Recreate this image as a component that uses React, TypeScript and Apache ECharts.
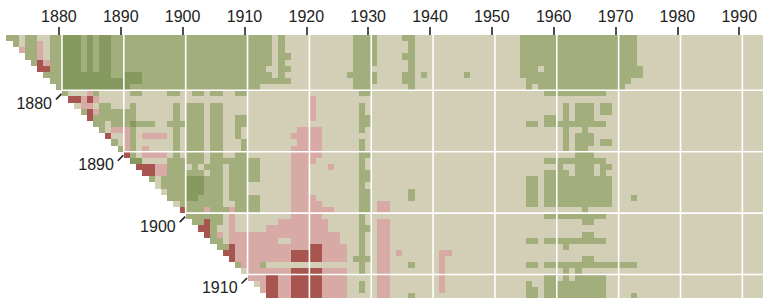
import React, { useEffect, useRef } from "react";
import * as echarts from "echarts";

// Start years (rows) run from firstStartYear downwards; end years (columns) up to lastEndYear.
const firstStartYear = 1871;
const lastEndYear = 1994;
const tickYears = [1880, 1890, 1900, 1910, 1920, 1930, 1940, 1950, 1960, 1970, 1980, 1990];
const rowLabelYears = [1880, 1890, 1900, 1910];

// Category codes: D dark green, G green, B beige, P pink, R dark red
const categoryCodes = ["D", "G", "B", "P", "R"];
const categoryColors = ["#86995e", "#a2ae7b", "#d3cfb6", "#d8aaa5", "#a8544f"];

// One row per start year; "YYYYc" = from end year YYYY onward the category is c.
const rowSpecs = [
  "1872G 1874B 1875G 1877B 1879G 1881D 1884G 1885D 1886G 1887D 1889G 1915B 1916G 1917B 1928G 1932B 1936G 1938B 1955G 1974B",
  "1873G 1874B 1875G 1877P 1878B 1879G 1881D 1884G 1885D 1886G 1887D 1889G 1915B 1916G 1917B 1928G 1932B 1937G 1938B 1955G 1974B",
  "1874P 1875G 1877P 1878B 1879G 1881D 1884G 1885D 1886G 1887D 1889G 1915B 1916G 1917B 1928G 1932B 1937G 1938B 1955G 1974B",
  "1875G 1877P 1878B 1879G 1881D 1884G 1885D 1886G 1887D 1889G 1915B 1916G 1918B 1928G 1932B 1936G 1938B 1955G 1974B",
  "1876G 1877R 1878P 1879G 1881D 1884G 1885D 1886G 1887D 1889G 1915B 1916G 1917B 1928G 1932B 1937G 1938B 1955G 1974B",
  "1877R 1879G 1881D 1884G 1885D 1886G 1887D 1889G 1914B 1916G 1918B 1928G 1931B 1937G 1938B 1955G 1958B 1959G 1975B",
  "1878G 1881D 1889G 1891D 1894G 1915B 1916G 1917B 1927G 1932B 1936G 1938B 1939G 1940B 1946G 1947B 1955G 1975B",
  "1879G 1881D 1894G 1918B 1928G 1932B 1936G 1938B 1956G 1973B",
  "1880G 1881D 1892G 1913B 1928G 1931B 1937G 1938B 1956G 1957B 1958G 1972B",
  "1881G 1882B 1885P 1886G 1887B 1892G 1894B 1898G 1900B 1902G 1904B 1905G 1907B 1909G 1911B 1929G 1931B 1959G 1969B",
  "1882R 1884P 1885R 1886P 1887B 1921P 1922B",
  "1883B 1884P 1886B 1887G 1889B 1892G 1893B 1899G 1900B 1901G 1904B 1905G 1907B 1921P 1922B 1929G 1930B 1962G 1963B 1964G 1967B 1968G 1970B",
  "1884G 1885R 1886P 1887G 1893B 1899G 1900B 1901G 1904B 1905G 1907B 1921P 1922B 1929G 1930B 1962G 1963B 1964G 1967B 1968G 1970B",
  "1885R 1886G 1893B 1899G 1900B 1901G 1904B 1905G 1907B 1909G 1911B 1921P 1922B 1929G 1931B 1959G 1961B 1962G 1963B 1964G 1967B",
  "1886G 1888B 1889G 1892D 1893G 1896B 1898G 1904B 1905G 1907B 1909G 1911B 1929G 1931B 1956G 1958B 1959G 1969B",
  "1887G 1888B 1889P 1892G 1893B 1899G 1900B 1901G 1904B 1905G 1907B 1909G 1910B 1919P 1923B 1929G 1930B 1962G 1963B 1965G 1966B",
  "1888R 1889B 1891P 1892G 1893B 1894P 1898B 1899G 1900B 1901G 1904B 1905G 1907B 1909G 1910B 1918P 1923B 1962G 1963B 1964G 1967B",
  "1889G 1890B 1891P 1892G 1893B 1899G 1900B 1901G 1904B 1905G 1907B 1910G 1911B 1919P 1923B 1929G 1930B 1962G 1963B 1964G 1967B 1968G 1970B",
  "1890G 1891P 1892G 1893B 1894P 1895B 1899G 1900B 1901G 1904B 1905G 1907B 1910G 1911B 1918P 1923B 1929G 1930B 1962G 1963B 1964G 1966B",
  "1891R 1892G 1893B 1894P 1898B 1899G 1900B 1901G 1904B 1905G 1907B 1909G 1911B 1918P 1923B 1929G 1931B 1964G 1967B",
  "1892D 1894B 1898G 1904B 1905G 1913B 1918P 1922B 1929G 1930B 1959G 1969B",
  "1893R 1896P 1898G 1901B 1902G 1903B 1904G 1907B 1908G 1913B 1918P 1921B 1924P 1925B 1929G 1930B 1961G 1962B 1964G 1967B 1968G 1970B",
  "1894R 1896P 1898G 1904B 1905G 1907B 1908G 1913B 1918P 1921B 1929G 1931B 1959G 1963B 1964G 1967B 1968G 1969B",
  "1895G 1896B 1897G 1901D 1904G 1907B 1908G 1913B 1918P 1921B 1929G 1931B 1956G 1958B 1959G 1970B",
  "1896B 1897G 1901D 1904G 1907B 1908G 1911B 1918P 1921B 1929G 1930B 1956G 1958B 1959G 1970B",
  "1897B 1898G 1901D 1904G 1907B 1908G 1911B 1918P 1921B 1929G 1931B 1937G 1938B 1956G 1958B 1959G 1970B",
  "1898G 1901D 1903G 1907B 1908G 1913B 1918P 1922B 1929G 1931B 1937G 1938B 1956G 1958B 1959G 1970B 1973G 1974B",
  "1899B 1900G 1907B 1909G 1913B 1918P 1923B 1929G 1931B 1932P 1934B 1956G 1958B 1959G 1970B",
  "1900R 1901G 1904P 1905G 1908P 1909G 1913B 1918P 1925B 1929G 1931B 1932P 1934B 1965G 1966B",
  "1901G 1907B 1908P 1909B 1918P 1923B 1929G 1930B 1959G 1969B",
  "1902G 1904R 1905G 1907B 1908P 1909B 1916P 1924B 1929G 1930B 1932P 1934B 1965G 1967B",
  "1903R 1905G 1906B 1908P 1909B 1914P 1924B 1929G 1931B 1932P 1934B",
  "1904R 1905G 1906P 1907B 1908P 1926B 1929G 1930B 1932P 1934B 1965G 1967B",
  "1905G 1907B 1908P 1916B 1918P 1926B 1929G 1930B 1932P 1934B 1956G 1958B 1959G 1969B",
  "1906G 1908R 1909P 1921R 1923P 1927B 1929G 1930B 1932P 1934B 1962G 1963B",
  "1907R 1909P 1918R 1923P 1927B 1929G 1930B 1932P 1934B 1935P 1936B 1942P 1944B",
  "1908R 1909P 1918R 1923P 1927B 1928G 1931B 1932P 1934B 1942P 1943B 1965G 1967B",
  "1909G 1910P 1913G 1914B 1929G 1930B 1932P 1934B 1937G 1938B 1942P 1943B 1956G 1958B 1959G 1974B",
  "1910B 1911P 1918R 1923P 1927B 1929G 1930B 1932P 1934B 1942P 1943B 1962G 1963B 1964G 1965B",
  "1911P 1914R 1916P 1918R 1923P 1927B 1932P 1934B 1942P 1943B 1959G 1961B 1962G 1963B 1964G 1969B",
  "1912B 1913P 1914R 1916P 1918R 1923P 1927B 1929G 1930B 1932P 1934B 1942P 1943B 1956G 1957B 1959G 1969B",
  "1913P 1914R 1916P 1918R 1923P 1927B 1929G 1930B 1932P 1934B 1942P 1943B 1956G 1958B 1959G 1969B",
  "1914R 1916P 1918R 1923P 1927B 1932P 1934B 1937G 1938B 1956G 1958B 1959G 1969B 1973G 1974B",
];

const X_MIN = 1871.5;
const X_MAX = 1993.84;
const Y_MIN = 1870.5;
const Y_MAX = 1913.33;
const FONT = "'Liberation Sans', Arial, Helvetica, sans-serif";

function buildRuns() {
  const runs: number[][] = [];
  rowSpecs.forEach((spec, i) => {
    const s = firstStartYear + i;
    const parts = spec
      .trim()
      .split(/\s+/)
      .map((p) => [parseInt(p.slice(0, 4), 10), categoryCodes.indexOf(p.slice(4))]);
    const rowRuns: number[][] = [];
    for (let k = 0; k < parts.length; k++) {
      const from = Math.max(parts[k][0], s + 1);
      const to = k + 1 < parts.length ? parts[k + 1][0] - 1 : lastEndYear;
      if (to < from) continue;
      const last = rowRuns[rowRuns.length - 1];
      if (last && last[3] === parts[k][1] && last[1] === from - 1) last[1] = to;
      else rowRuns.push([from, to, s, parts[k][1]]);
    }
    runs.push(...rowRuns);
  });
  return runs;
}

function buildGridLines() {
  const lines: number[][] = [];
  tickYears.forEach((d) => {
    lines.push([d + 0.5, Y_MIN, d + 0.5, Math.min(d - 0.5, Y_MAX)]);
  });
  rowLabelYears.forEach((d) => {
    lines.push([d + 0.5, d - 0.5, X_MAX, d - 0.5]);
  });
  return lines;
}

export default function App() {
  const ref = useRef<HTMLDivElement>(null);

  useEffect(() => {
    document.body.style.margin = "0";
    if (!ref.current) return;
    const chart = echarts.init(ref.current, undefined, { renderer: "svg" });
    const runs = buildRuns();
    const gridLines = buildGridLines();

    chart.setOption({
      animation: false,
      grid: { left: 6.33, top: 35.04, right: 0, bottom: 0 },
      xAxis: {
        type: "value",
        position: "top",
        min: X_MIN,
        max: X_MAX,
        axisLine: { show: false },
        splitLine: { show: false },
        axisTick: {
          show: true,
          customValues: tickYears,
          length: 8,
          lineStyle: { color: "#222", width: 1.6 },
        },
        axisLabel: {
          show: true,
          customValues: tickYears,
          margin: 11,
          color: "#222",
          fontSize: 16,
          fontFamily: FONT,
          formatter: (v: number) => String(v),
        },
      },
      yAxis: {
        type: "value",
        min: Y_MIN,
        max: Y_MAX,
        inverse: true,
        show: false,
      },
      series: [
        {
          type: "custom",
          silent: true,
          clip: true,
          encode: { x: [0, 1], y: 2 },
          data: runs,
          renderItem: (_p: any, api: any) => {
            const e0 = api.value(0);
            const e1 = api.value(1);
            const s = api.value(2);
            const c = api.value(3);
            const a = api.coord([e0 - 0.5, s - 0.5]);
            const b = api.coord([e1 + 0.5, s + 0.5]);
            const x0 = Math.round(a[0]);
            const y0 = Math.round(a[1]);
            const x1 = Math.round(b[0]);
            const y1 = Math.round(b[1]);
            return {
              type: "rect",
              shape: { x: x0, y: y0, width: x1 - x0, height: y1 - y0 },
              style: { fill: categoryColors[c] },
            };
          },
        },
        {
          type: "custom",
          silent: true,
          encode: { x: [0, 2], y: [1, 3] },
          data: gridLines,
          renderItem: (_p: any, api: any) => {
            const a = api.coord([api.value(0), api.value(1)]);
            const b = api.coord([api.value(2), api.value(3)]);
            return {
              type: "line",
              shape: { x1: a[0], y1: a[1], x2: b[0], y2: b[1] },
              style: { stroke: "#ffffff", lineWidth: 1.6 },
            };
          },
        },
        {
          type: "custom",
          silent: true,
          encode: { x: 0, y: 1 },
          data: rowLabelYears.map((d) => [d + 0.5, d]),
          renderItem: (_p: any, api: any) => {
            const year = api.value(1);
            const p = api.coord([api.value(0), year]);
            return {
              type: "group",
              children: [
                {
                  type: "line",
                  shape: { x1: p[0] - 0.5, y1: p[1] + 0.5, x2: p[0] - 6, y2: p[1] + 6 },
                  style: { stroke: "#222", lineWidth: 1.6 },
                },
                {
                  type: "text",
                  style: {
                    text: String(year),
                    x: p[0] - 10,
                    y: p[1] + 10,
                    align: "right",
                    verticalAlign: "middle",
                    fill: "#222",
                    fontSize: 16,
                    fontFamily: FONT,
                  },
                },
              ],
            };
          },
        },
      ],
    });

    return () => chart.dispose();
  }, []);

  return <div ref={ref} style={{ width: 763, height: 298 }} />;
}
